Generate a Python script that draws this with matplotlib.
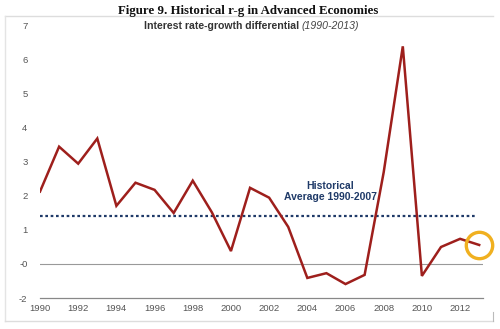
import matplotlib.pyplot as plt
from matplotlib.lines import Line2D

# data
years = list(range(1990, 2014))
r_g = [2.13, 3.45, 2.95, 3.69, 1.71, 2.39, 2.18, 1.50, 2.45, 1.52,
       0.38, 2.24, 1.95, 1.09, -0.41, -0.27, -0.59, -0.32, 2.7, 6.40,
       -0.35, 0.50, 0.74, 0.56]
hist_avg = 1.42
ytick_pos = [7, 6, 5, 4, 3, 2, 1, 0, -1]
ytick_lab = ['7', '6', '5', '4', '3', '2', '1', '-0', '-2']
xtick_pos = list(range(1990, 2013, 2))

plt.rcParams['font.family'] = ['Liberation Sans', 'DejaVu Sans']

fig = plt.figure(figsize=(5, 3.29), dpi=100)
ax = fig.add_axes([0.08, 0.0942, 0.886, 0.827])

ax.plot(years, r_g, color='#9E1F1C', linewidth=1.8, solid_joinstyle='miter', zorder=3)
ax.hlines(hist_avg, 1990, 2012.9, colors='#1F3A68', linewidth=1.6,
          linestyles=(0, (1.2, 1.2)), zorder=2)
ax.axhline(0, xmin=0, xmax=1, color='#999999', linewidth=0.8, zorder=1)
# circle round the last point
ax.plot(years[-1], r_g[-1], marker='o', markersize=19, markerfacecolor='none',
        markeredgecolor='#F0B020', markeredgewidth=2.4, zorder=4, clip_on=False)

ax.text(2005.2, 2.14, 'Historical\nAverage 1990-2007', ha='center', va='center',
        fontsize=7.5, fontweight='bold', color='#1F3A68', linespacing=1.1)

ax.set_xlim(1990, 2013.2)
ax.set_ylim(-1, 7)
ax.set_yticks(ytick_pos)
ax.set_yticklabels(ytick_lab)
ax.set_xticks(xtick_pos)
ax.tick_params(length=0, labelsize=6.8, labelcolor='#555555')
ax.tick_params(axis='y', pad=9)
ax.tick_params(axis='x', pad=4)
for s in ['top', 'right', 'left']:
    ax.spines[s].set_visible(False)
ax.spines['bottom'].set_color('#888888')
ax.spines['bottom'].set_linewidth(0.9)
ax.patch.set_alpha(0)

# titles
fig.text(0.496, 0.968, 'Figure 9. Historical r-g in Advanced Economies', ha='center', va='center',
         fontsize=9.3, fontweight='bold', family='Liberation Serif', color='#111111')
fig.text(0.604, 0.921, 'Interest rate-growth differential ', ha='right', va='center',
         fontsize=7.6, fontweight='bold', color='#333333')
fig.text(0.604, 0.921, '(1990-2013)', ha='left', va='center',
         fontsize=7.6, style='italic', color='#444444')

# light frame
fx = lambda p: p / 500
fy = lambda p: 1 - p / 329
fig.add_artist(Line2D([fx(5), fx(493)], [fy(16), fy(16)], color='#dddddd', linewidth=1))
fig.add_artist(Line2D([fx(5), fx(5)], [fy(16), fy(321)], color='#e4e4e4', linewidth=1))
fig.add_artist(Line2D([fx(5), fx(493)], [fy(321), fy(321)], color='#dddddd', linewidth=1))
fig.add_artist(Line2D([fx(493), fx(493)], [fy(312), fy(321)], color='#bbbbbb', linewidth=0.8))

plt.savefig('out.png', dpi=100)
